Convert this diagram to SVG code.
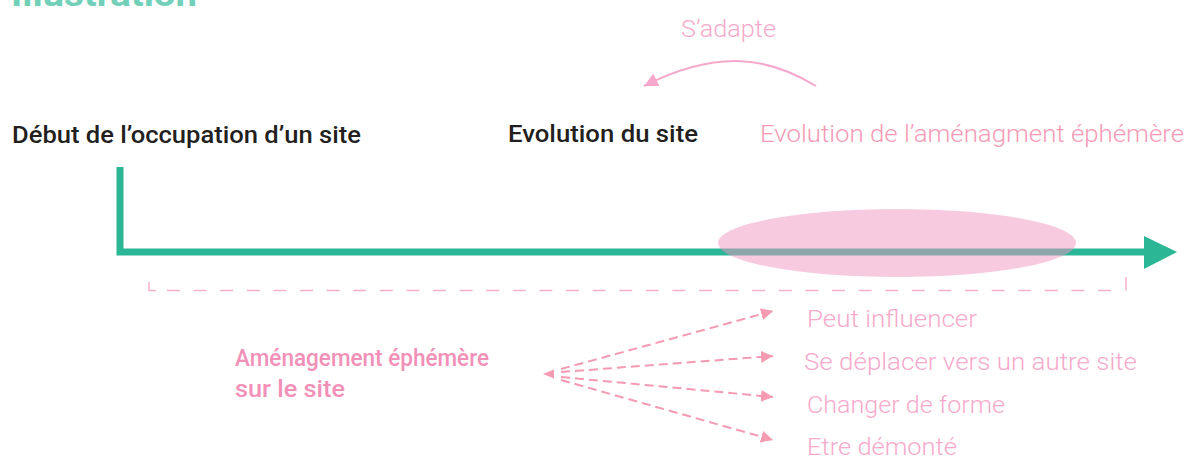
<svg xmlns="http://www.w3.org/2000/svg" width="1187" height="458" viewBox="0 0 1187 458">
  <defs>
    <style>
      .title { font-family: Roboto, "Noto Sans", sans-serif; font-weight: 700; fill: #72d0b8; }
      .dark { font-family: Roboto, "Noto Sans", sans-serif; font-weight: 500; fill: #231f20; font-size: 23px; }
      .pinkbold { font-family: Roboto, "Noto Sans", sans-serif; font-weight: 500; fill: #f290b8; font-size: 23.5px; }
      .light { font-family: Roboto, "Noto Sans", sans-serif; font-weight: 300; font-size: 24px; }
      .lbl { fill: #f6a9cb; }
      .evo { fill: #f59ab5; }
      .fan { fill: none; stroke: #f49ab1; stroke-width: 2; stroke-dasharray: 9 5; }
      .bracket { fill: none; stroke: #f6b0d0; stroke-width: 1.5; }
    </style>
    <marker id="fanHead" markerWidth="12" markerHeight="12" refX="10" refY="5" orient="auto" markerUnits="userSpaceOnUse" viewBox="0 0 10 10">
      <path d="M0,0 L10,5 L0,10 Z" fill="#f49ab1"/>
    </marker>
    <marker id="curveHead" markerWidth="14" markerHeight="14" refX="10" refY="5" orient="auto" markerUnits="userSpaceOnUse" viewBox="0 0 10 10">
      <path d="M0,0 L10,5 L0,10 Z" fill="#f5a8cb"/>
    </marker>
  </defs>

  <!-- heading, cropped at the top edge -->
  <text class="title" x="11" y="6" font-size="34" textLength="186" lengthAdjust="spacingAndGlyphs">Illustration</text>

  <!-- timeline -->
  <g id="timeline">
    <path d="M120,167 V252 H1146" fill="none" stroke="#2bb795" stroke-width="7"/>
    <polygon points="1144,236 1177,252 1144,269" fill="#2bb795"/>
  </g>

  <!-- highlighted period of the temporary installation -->
  <g id="period">
    <ellipse cx="897" cy="243" rx="179" ry="34" fill="#ef95bf" fill-opacity="0.5"/>
  </g>

  <!-- labels above the timeline -->
  <g id="start">
    <text class="dark" x="12" y="143" textLength="349" lengthAdjust="spacingAndGlyphs">Début de l’occupation d’un site</text>
  </g>
  <g id="evolution">
    <text class="dark" x="508" y="142" textLength="190" lengthAdjust="spacingAndGlyphs">Evolution du site</text>
  </g>
  <g id="evolution-amenagement">
    <text class="light evo" x="760" y="142" textLength="424" lengthAdjust="spacingAndGlyphs">Evolution de l’aménagment éphémère</text>
  </g>
  <g id="adapte">
    <text class="light lbl" x="681" y="37" textLength="95" lengthAdjust="spacingAndGlyphs">S’adapte</text>
  </g>

  <!-- temporary installation and its outcomes -->
  <g id="amenagement">
    <text class="pinkbold" x="235" y="366" textLength="254" lengthAdjust="spacingAndGlyphs">Aménagement éphémère</text>
    <text class="pinkbold" x="235" y="397" textLength="110" lengthAdjust="spacingAndGlyphs">sur le site</text>
  </g>
  <g id="influencer">
    <text class="light lbl" x="807" y="327" textLength="170" lengthAdjust="spacingAndGlyphs">Peut influencer</text>
  </g>
  <g id="deplacer">
    <text class="light lbl" x="804" y="370" textLength="333" lengthAdjust="spacingAndGlyphs">Se déplacer vers un autre site</text>
  </g>
  <g id="forme">
    <text class="light lbl" x="807" y="413" textLength="198" lengthAdjust="spacingAndGlyphs">Changer de forme</text>
  </g>
  <g id="demonte">
    <text class="light lbl" x="807" y="455" textLength="150" lengthAdjust="spacingAndGlyphs">Etre démonté</text>
  </g>

  <!-- connectors -->
  <g id="connectors">
    <path d="M816,86 C770,58 720,48 644,86" fill="none" stroke="#f5a8cb" stroke-width="2" marker-end="url(#curveHead)"/>
    <path class="bracket" d="M149,282 V290.5 H156 M1126,277 V290.5"/>
    <path class="bracket" d="M167,290.5 H1113" stroke-dasharray="13 13.6"/>
    <line class="fan" x1="561" y1="369" x2="773" y2="311" marker-end="url(#fanHead)"/>
    <line class="fan" x1="561" y1="372" x2="773" y2="356" marker-end="url(#fanHead)"/>
    <line class="fan" x1="561" y1="377" x2="773" y2="397" marker-end="url(#fanHead)"/>
    <line class="fan" x1="561" y1="380" x2="773" y2="440" marker-end="url(#fanHead)"/>
    <polygon points="543,374 554,369.5 554,378.5" fill="#f49ab1"/>
  </g>
</svg>
